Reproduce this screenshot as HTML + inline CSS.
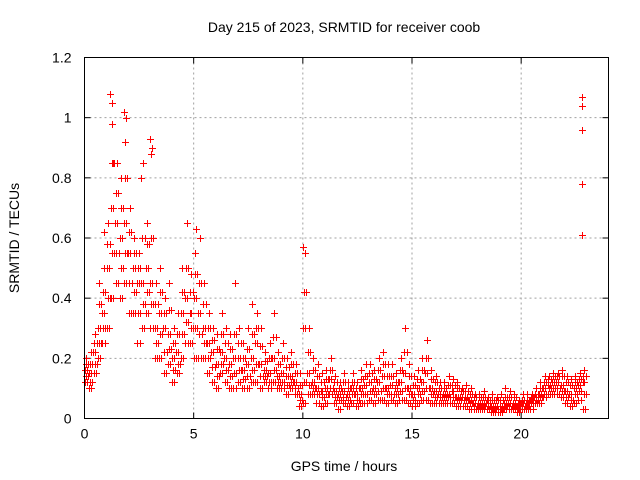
<!DOCTYPE html>
<html><head><meta charset="utf-8"><style>
body{margin:0;background:#fff;}
svg{display:block;font-family:"Liberation Sans",sans-serif;}
</style></head><body>
<svg id="chart" width="640" height="480" viewBox="0 0 640 480">
<text x="344" y="32" font-size="14" text-anchor="middle">Day 215 of 2023, SRMTID for receiver coob</text>
<text x="344" y="471" font-size="14" text-anchor="middle">GPS time / hours</text>
<text transform="translate(19,238) rotate(-90)" font-size="14" text-anchor="middle">SRMTID / TECUs</text>
<g id="grid"></g>
<g id="ticks"></g>
<path id="pts" stroke="#ff0000" stroke-width="1" fill="none"></path>
<rect x="84.5" y="57.5" width="524" height="361" fill="none" stroke="#000" stroke-width="1"/>
</svg>
<script>
const xTicks=[0,5,10,15,20];
const yTicks=[0,0.2,0.4,0.6,0.8,1,1.2];
const yTickLabels=["0","0.2","0.4","0.6","0.8","1","1.2"];
const binTimes=[0,0.2,0.4,0.6,0.8,1.0,1.2,1.4,1.6,1.8,2.0,2.2,2.4,2.6,2.8,3.0,3.2,3.4,3.6,3.8,4.0,4.2,4.4,4.6,4.8,5.0,5.2,5.4,5.6,5.8,6.0,6.2,6.4,6.6,6.8,7.0,7.2,7.4,7.6,7.8,8.0,8.2,8.4,8.6,8.8,9.0,9.2,9.4,9.6,9.8,10.0,10.2,10.4,10.6,10.8,11.0,11.2,11.4,11.6,11.8,12.0,12.2,12.4,12.6,12.8,13.0,13.2,13.4,13.6,13.8,14.0,14.2,14.4,14.6,14.8,15.0,15.2,15.4,15.6,15.8,16.0,16.2,16.4,16.6,16.8,17.0,17.2,17.4,17.6,17.8,18.0,18.2,18.4,18.6,18.8,19.0,19.2,19.4,19.6,19.8,20.0,20.2,20.4,20.6,20.8,21.0,21.2,21.4,21.6,21.8,22.0,22.2,22.4,22.6,22.8];
const lowVals=[.12,.10,.15,.20,.25,.30,.40,.45,.40,.45,.35,.35,.25,.30,.35,.30,.20,.20,.15,.18,.12,.15,.20,.25,.25,.20,.20,.20,.15,.12,.10,.15,.12,.10,.10,.12,.10,.10,.12,.12,.10,.12,.10,.12,.10,.10,.08,.10,.08,.04,.05,.08,.08,.05,.04,.05,.08,.05,.03,.05,.04,.05,.04,.05,.05,.06,.05,.06,.06,.05,.06,.05,.06,.06,.05,.04,.05,.06,.06,.05,.05,.05,.05,.05,.05,.04,.04,.04,.03,.03,.03,.03,.03,.02,.02,.02,.03,.03,.03,.02,.03,.03,.03,.05,.05,.07,.08,.08,.08,.07,.05,.04,.05,.06,.03];
const q1Vals=[.14,.12,.18,.25,.30,.40,.55,.55,.50,.55,.45,.42,.35,.38,.42,.38,.25,.28,.22,.23,.16,.18,.28,.32,.30,.30,.28,.25,.20,.17,.14,.18,.16,.14,.15,.16,.13,.14,.16,.18,.14,.14,.12,.16,.12,.12,.11,.12,.10,.06,.12,.11,.10,.08,.07,.08,.10,.07,.06,.07,.06,.08,.06,.08,.08,.09,.08,.09,.10,.08,.08,.08,.09,.10,.08,.06,.08,.09,.10,.08,.07,.07,.07,.07,.07,.06,.06,.06,.05,.04,.04,.04,.04,.03,.03,.03,.04,.04,.04,.03,.04,.04,.05,.06,.07,.08,.10,.10,.10,.09,.07,.06,.08,.09,.08];
const midVals=[.16,.15,.22,.30,.35,.50,.70,.65,.60,.65,.55,.50,.45,.45,.50,.45,.30,.35,.30,.28,.20,.22,.35,.40,.35,.40,.35,.30,.25,.22,.18,.22,.20,.18,.20,.20,.16,.18,.20,.25,.18,.16,.15,.20,.14,.15,.14,.14,.12,.08,.30,.15,.12,.10,.09,.10,.13,.09,.08,.09,.08,.10,.08,.10,.11,.12,.10,.12,.14,.10,.11,.10,.12,.15,.10,.08,.10,.12,.15,.10,.09,.08,.08,.08,.09,.07,.07,.07,.06,.05,.05,.05,.05,.04,.04,.04,.05,.05,.05,.04,.05,.05,.06,.07,.08,.10,.11,.12,.12,.11,.09,.08,.10,.11,.12];
const q3Vals=[.18,.18,.25,.38,.42,.58,.85,.75,.70,.80,.62,.55,.50,.60,.58,.60,.38,.42,.35,.36,.25,.28,.42,.50,.42,.48,.45,.38,.30,.26,.23,.28,.25,.23,.28,.25,.20,.23,.28,.30,.24,.19,.20,.27,.18,.20,.17,.18,.15,.11,.42,.22,.16,.14,.12,.13,.16,.12,.10,.12,.10,.12,.10,.13,.14,.15,.13,.16,.18,.14,.14,.12,.16,.22,.14,.11,.13,.16,.20,.13,.12,.10,.10,.11,.11,.10,.09,.09,.08,.07,.07,.07,.06,.06,.06,.06,.07,.07,.07,.05,.06,.06,.07,.08,.10,.12,.13,.14,.14,.14,.12,.11,.12,.13,.14];
const highVals=[.20,.22,.28,.45,.50,.65,1.05,.85,.80,1.0,.70,.60,.55,.85,.65,.90,.45,.50,.40,.45,.30,.35,.50,.65,.48,.55,.60,.45,.35,.30,.28,.35,.30,.28,.45,.30,.25,.30,.38,.35,.30,.22,.25,.35,.22,.25,.20,.22,.18,.15,.55,.30,.20,.18,.15,.16,.20,.14,.12,.15,.12,.15,.12,.16,.18,.18,.16,.20,.22,.18,.18,.15,.20,.30,.18,.14,.16,.20,.26,.16,.14,.12,.12,.14,.13,.12,.10,.11,.10,.08,.08,.09,.07,.08,.07,.08,.10,.09,.08,.06,.08,.08,.08,.10,.12,.14,.14,.15,.15,.16,.14,.13,.14,.15,.16];
const extraTimes=[1.15,1.25,1.8,1.85,3.0,3.05,10.0,10.05,5.1,22.8,22.8,22.8,22.8,22.8,0.9,1.3,2.6];
const extraVals=[1.08,0.98,1.02,0.92,0.93,0.88,0.57,0.42,0.63,0.61,0.78,0.96,1.04,1.07,0.62,0.85,0.80];

const X0=84.5,X1=608.5,Y0=418.5,Y1=57.5;
const xs=t=>X0+t/24*(X1-X0);
const ys=v=>Y0-v/1.2*(Y0-Y1);
const NS="http://www.w3.org/2000/svg";
const grid=document.getElementById('grid'),ticks=document.getElementById('ticks');
function mk(tag,attrs,parent){const e=document.createElementNS(NS,tag);for(const k in attrs)e.setAttribute(k,attrs[k]);parent.appendChild(e);return e;}
xTicks.forEach(t=>{
  const x=xs(t);
  if(t>0){const g=mk('line',{x1:x,x2:x,y1:Y1,y2:Y0,stroke:'#a0a0a0','stroke-dasharray':'2,3'},grid);
  
  }
  const l=mk('text',{x:x,y:Y0+20,'font-size':14,'text-anchor':'middle'},ticks);
  
  
  l.textContent=t;
  mk('line',{x1:x,x2:x,y1:Y0,y2:Y0-6,stroke:'#000'},ticks);
  mk('line',{x1:x,x2:x,y1:Y1,y2:Y1+6,stroke:'#000'},ticks);
});
yTicks.forEach((v,i)=>{
  const y=ys(v);
  if(v>0&&v<1.2){const g=mk('line',{x1:X0,x2:X1,y1:y,y2:y,stroke:'#a0a0a0','stroke-dasharray':'2,3'},grid);
  
  }
  const l=mk('text',{x:X0-13,y:y+5,'font-size':14,'text-anchor':'end'},ticks);
  
  
  l.textContent=yTickLabels[i];
  mk('line',{x1:X0,x2:X0+6,y1:y,y2:y,stroke:'#000'},ticks);
  mk('line',{x1:X1,x2:X1-6,y1:y,y2:y,stroke:'#000'},ticks);
});
let d='';
function plus(t,v){const x=Math.round(xs(t))+0.5,y=Math.round(ys(v))+0.5;d+=`M${x-3.5} ${y}h7M${x} ${y-3.5}v7`;}
binTimes.forEach((t,i)=>{
  plus(t+0.02,lowVals[i]);plus(t+0.12,lowVals[i]);
  plus(t+0.06,q1Vals[i]);plus(t+0.16,q1Vals[i]);
  plus(t+0.01,midVals[i]);plus(t+0.1,midVals[i]);
  plus(t+0.05,q3Vals[i]);plus(t+0.15,q3Vals[i]);
  plus(t+0.08,highVals[i]);
});
extraTimes.forEach((t,i)=>plus(t,extraVals[i]));
document.getElementById('pts').setAttribute('d',d);
</script>
</body></html>
